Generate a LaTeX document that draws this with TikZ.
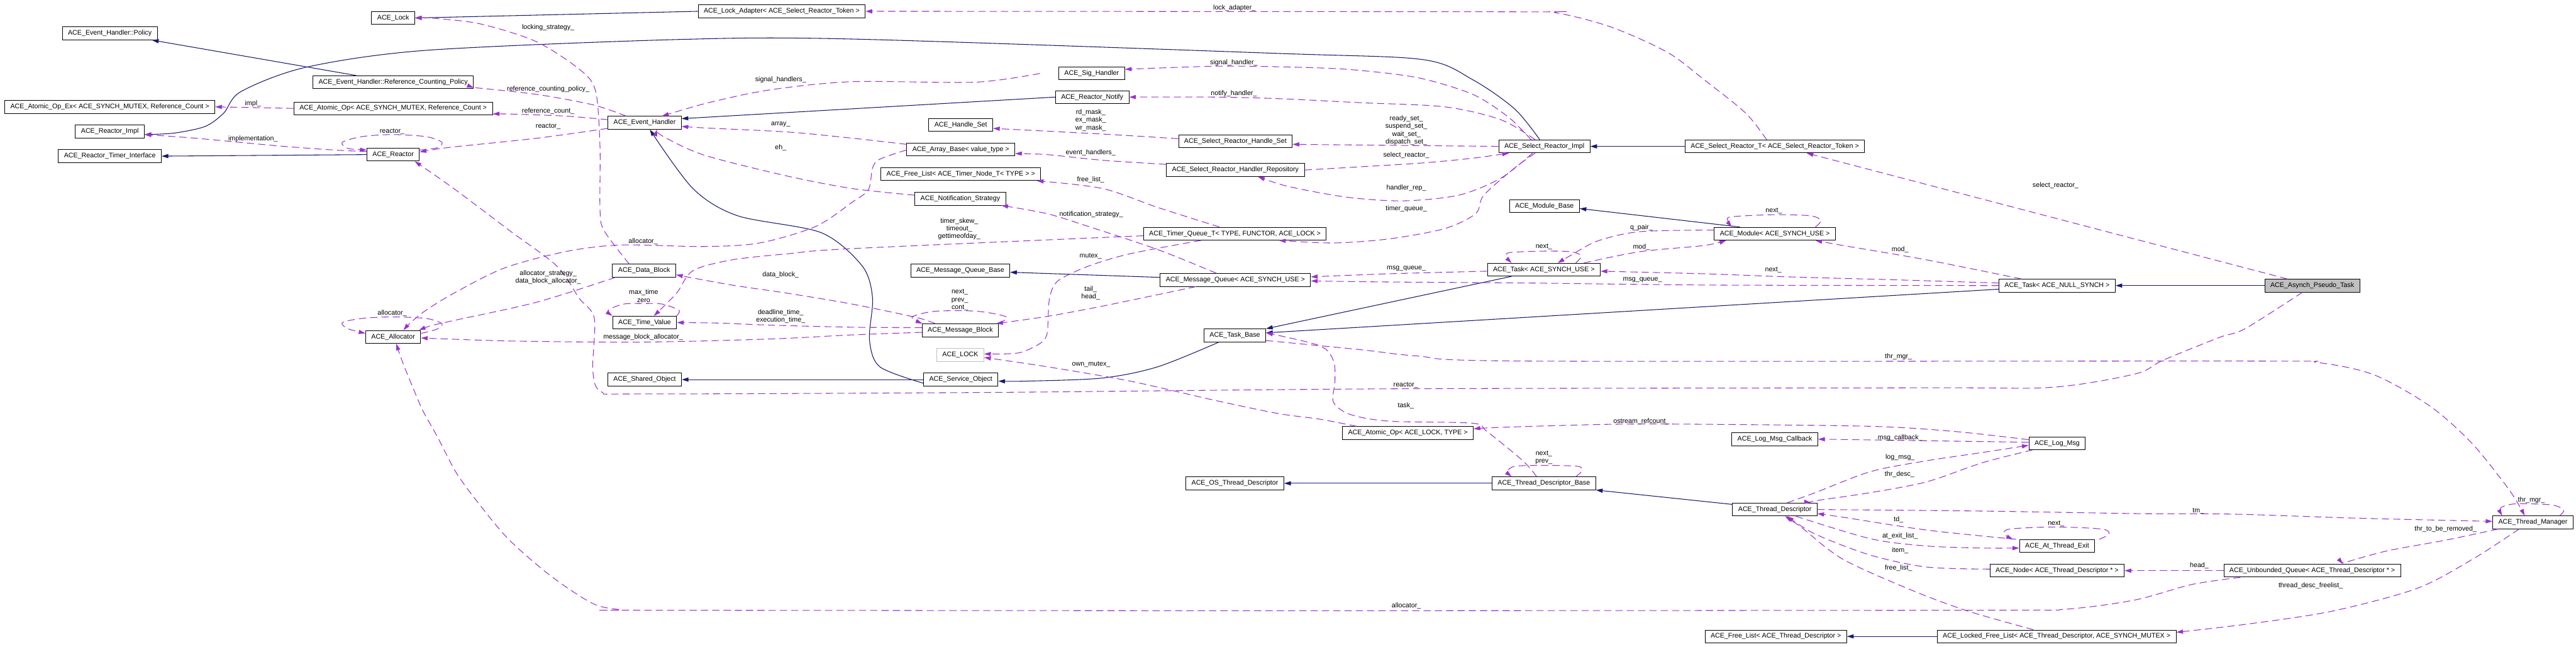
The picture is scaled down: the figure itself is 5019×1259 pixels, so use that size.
\documentclass[tikz,border=0pt]{standalone}
\usepackage{fontspec}
\setmainfont{Liberation Sans}
\usetikzlibrary{arrows.meta}
\definecolor{inhblue}{HTML}{191970}
\definecolor{usepurple}{HTML}{9A32CD}
\definecolor{rootgrey}{HTML}{BFBFBF}

\tikzset{
  cls/.style={draw, fill=white, line width=1.1pt, inner xsep=11pt, inner ysep=0pt,
    minimum height=25pt, text height=9.5pt, text depth=2.7pt},
  lbl/.style={inner sep=0pt, align=center},
  inheritance/.style={draw=inhblue, line width=1.3pt, -{Triangle[length=13pt,width=8pt]}},
  usage/.style={draw=usepurple, line width=1.3pt, dash pattern=on 14pt off 8pt,
    -{Triangle[length=13pt,width=8pt]}},
}

\begin{document}
\begin{tikzpicture}[x=1pt, y=-1pt, font=\fontsize{13.1}{15}\selectfont]
\fill[white] (0,0) rectangle (5019,1259);
\useasboundingbox (0,0) rectangle (5019,1259);

\node[cls] (lock) at (766,35) {ACE\_Lock};
\node[cls] (policy) at (214,65) {ACE\_Event\_Handler::Policy};
\node[cls] (rcpol) at (766,160) {ACE\_Event\_Handler::Reference\_Counting\_Policy};
\node[cls] (aopex) at (214,208) {ACE\_Atomic\_Op\_Ex< ACE\_SYNCH\_MUTEX, Reference\_Count >};
\node[cls] (aopmx) at (766,211) {ACE\_Atomic\_Op< ACE\_SYNCH\_MUTEX, Reference\_Count >};
\node[cls] (rimpl) at (214,256) {ACE\_Reactor\_Impl};
\node[cls] (rtimer) at (214,304) {ACE\_Reactor\_Timer\_Interface};
\node[cls] (reactor) at (766,301) {ACE\_Reactor};
\node[cls] (alloc) at (766,656) {ACE\_Allocator};
\node[cls] (lockad) at (1523,22) {ACE\_Lock\_Adapter< ACE\_Select\_Reactor\_Token >};
\node[cls] (evh) at (1256,239) {ACE\_Event\_Handler};
\node[cls] (datab) at (1255,527) {ACE\_Data\_Block};
\node[cls] (timev) at (1256,628) {ACE\_Time\_Value};
\node[cls] (shobj) at (1256,739) {ACE\_Shared\_Object};
\node[cls] (sigh) at (2127,143) {ACE\_Sig\_Handler};
\node[cls] (notify) at (2128,189) {ACE\_Reactor\_Notify};
\node[cls] (hset) at (1872,243) {ACE\_Handle\_Set};
\node[cls] (srhset) at (2407,275) {ACE\_Select\_Reactor\_Handle\_Set};
\node[cls] (abase) at (1872,291) {ACE\_Array\_Base< value\_type >};
\node[cls] (hrepo) at (2407,331) {ACE\_Select\_Reactor\_Handler\_Repository};
\node[cls] (flnode) at (1872,339) {ACE\_Free\_List< ACE\_Timer\_Node\_T< TYPE > >};
\node[cls] (notst) at (1871,387) {ACE\_Notification\_Strategy};
\node[cls] (tqueue) at (2406,455) {ACE\_Timer\_Queue\_T< TYPE, FUNCTOR, ACE\_LOCK >};
\node[cls] (mqbase) at (1871,527) {ACE\_Message\_Queue\_Base};
\node[cls] (mqueue) at (2407,545) {ACE\_Message\_Queue< ACE\_SYNCH\_USE >};
\node[cls] (mblock) at (1871,643) {ACE\_Message\_Block};
\node[cls, draw=rootgrey] (acelock) at (1871,691) {ACE\_LOCK};
\node[cls] (svcobj) at (1872,739) {ACE\_Service\_Object};
\node[cls] (tbase) at (2406,653) {ACE\_Task\_Base};
\node[cls] (osthr) at (2406,941) {ACE\_OS\_Thread\_Descriptor};
\node[cls] (srimpl) at (3009,285) {ACE\_Select\_Reactor\_Impl};
\node[cls] (modbase) at (3009,401) {ACE\_Module\_Base};
\node[cls] (tsynch) at (3008,525) {ACE\_Task< ACE\_SYNCH\_USE >};
\node[cls] (srt) at (3458,285) {ACE\_Select\_Reactor\_T< ACE\_Select\_Reactor\_Token >};
\node[cls] (aoplock) at (2743,843) {ACE\_Atomic\_Op< ACE\_LOCK, TYPE >};
\node[cls] (tdbase) at (3008,941) {ACE\_Thread\_Descriptor\_Base};
\node[cls] (module) at (3458,455) {ACE\_Module< ACE\_SYNCH\_USE >};
\node[cls] (tnull) at (4008,556) {ACE\_Task< ACE\_NULL\_SYNCH >};
\node[cls, fill=rootgrey] (apt) at (4505,556) {ACE\_Asynch\_Pseudo\_Task};
\node[cls] (lmcb) at (3458,855) {ACE\_Log\_Msg\_Callback};
\node[cls] (logmsg) at (4008,863) {ACE\_Log\_Msg};
\node[cls] (tdesc) at (3458,992) {ACE\_Thread\_Descriptor};
\node[cls] (atexit) at (4008,1063) {ACE\_At\_Thread\_Exit};
\node[cls] (tdnode) at (4008,1111) {ACE\_Node< ACE\_Thread\_Descriptor * >};
\node[cls] (flthr) at (3460,1239) {ACE\_Free\_List< ACE\_Thread\_Descriptor >};
\node[cls] (lfl) at (4007,1239) {ACE\_Locked\_Free\_List< ACE\_Thread\_Descriptor, ACE\_SYNCH\_MUTEX >};
\node[cls] (tmgr) at (4935,1017) {ACE\_Thread\_Manager};
\node[cls] (uqueue) at (4505,1111) {ACE\_Unbounded\_Queue< ACE\_Thread\_Descriptor * >};

\draw[inheritance] (lockad.west) -- (lock.east);
\draw[inheritance] ([xshift=-72pt]rcpol.north) -- ([xshift=-11pt]policy.south east);
\draw[inheritance] plot[smooth] coordinates {([xshift=-9pt]srimpl.north) (2951,212) (2869,155) (2772,116) (2490,104) (1660,76) (1318,77) (830,98) (596,131) (470,178) (436,220) (400,246) (340,259) ([yshift=-6pt]rimpl.east)};
\draw[inheritance] (reactor.west) -- (rtimer.east);
\draw[inheritance] (notify.west) -- ([yshift=8pt]evh.east);
\draw[inheritance] plot[smooth] coordinates {([yshift=-7pt]svcobj.west) (1714,714) (1694,661) (1700,580) (1680,518) (1600,453) (1437,420) (1350,367) ([xshift=10pt]evh.south)};
\draw[inheritance] plot[smooth] coordinates {([xshift=-31pt]tbase.south) (2256,714) (2148,736) (2000,742) ([yshift=-3pt]svcobj.east)};
\draw[inheritance] (svcobj.west) -- (shobj.east);
\draw[inheritance] ([yshift=5pt]mqueue.west) -- ([yshift=-3pt]mqbase.east);
\draw[inheritance] (srt.west) -- (srimpl.east);
\draw[inheritance] ([xshift=-68pt]module.north) -- ([yshift=-5pt]modbase.east);
\draw[inheritance] ([xshift=-63pt]tsynch.south) -- (tbase.north east);
\draw[inheritance] ([yshift=-7pt]tnull.west) -- ([yshift=5pt]tbase.east);
\draw[inheritance] (apt.west) -- (tnull.east);
\draw[inheritance] (tdbase.west) -- (osthr.east);
\draw[inheritance] ([yshift=10pt]tdesc.west) -- (tdbase.south east);
\draw[inheritance] (lfl.west) -- (flthr.east);

\draw[usage] plot[smooth] coordinates {([xshift=-16pt]srt.north) (3401,220) (3320,155) (3249,102) (3140,53) (3032,25) (2950,23) (lockad.east)};
\draw[usage] plot[smooth] coordinates {([xshift=-26pt]srimpl.north) (2940,229) (2870,184) (2761,151) (2625,135) (2490,130) (2365,129) ([yshift=8pt]sigh.east)};
\draw[usage] plot[smooth] coordinates {([xshift=-18pt]srimpl.north) (2924,233) (2815,208) (2652,200) (2490,192) (2365,189) (notify.east)};
\draw[usage] plot[smooth] coordinates {([xshift=-36pt]sigh.west) (1900,160) (1660,159) (1500,175) (1380,200) ([xshift=34pt]evh.north)};
\draw[usage] (srimpl.west) -- ([yshift=-6pt]srhset.east);
\draw[usage] plot[smooth] coordinates {([yshift=5pt]srhset.west) (2148,261) ([yshift=-7pt]hset.east)};
\draw[usage] plot[smooth] coordinates {([yshift=11pt]hrepo.west) (2148,312) (2040,301) ([yshift=-8pt]abase.east)};
\draw[usage] plot[smooth] coordinates {(hrepo.east) (2761,318) (2869,308) ([xshift=-69pt]srimpl.south)};
\draw[usage] plot[smooth] coordinates {([xshift=-23pt]srimpl.south) (2924,347) (2842,380) (2734,391) (2625,384) (2510,363) ([xshift=44pt]hrepo.south)};
\draw[usage] plot[smooth] coordinates {([xshift=-18pt]srimpl.south) (2951,327) (2891,380) (2875,416) (2815,445) (2707,465) (2598,473) ([xshift=86pt]tqueue.south)};
\draw[usage] plot[smooth] coordinates {([xshift=-30pt]tqueue.north) (2256,404) (2148,367) ([xshift=-8pt]flnode.south east)};
\draw[usage] plot[smooth] coordinates {([yshift=-4pt]tqueue.west) (1660,484) (1535,494) (1426,506) (1350,527) (1318,571) ([xshift=18pt]timev.north)};
\draw[usage] plot[smooth] coordinates {([xshift=-66pt]tqueue.south) (2202,494) (2121,518) (2061,547) (2045,580) (2042,625) (2040,650) (2029,667) (1985,687) ([yshift=2pt]acelock.east)};
\draw[usage] plot[smooth] coordinates {([xshift=-37pt]mqueue.north) (2256,486) (2121,441) (2040,416) ([xshift=-9pt]notst.south east)};
\draw[usage] plot[smooth] coordinates {([xshift=-77pt]mqueue.south) (2148,596) (2040,616) ([xshift=-5pt]mblock.north east)};
\draw[usage] plot[smooth] coordinates {([xshift=75pt]mblock.north) (1961,617) (1904,606) (1822,606) (1777,617) ([xshift=-74pt]mblock.north)};
\draw[usage] plot[smooth] coordinates {([xshift=-49pt]mblock.north) (1785,618) (1660,592) (1535,571) (1426,555) ([yshift=-8pt]datab.east)};
\draw[usage] plot[smooth] coordinates {([yshift=5pt]mblock.west) (1660,637) (1500,633) (1400,629) (timev.east)};
\draw[usage] plot[smooth] coordinates {([yshift=-4pt]mblock.west) (1660,652) (1500,660) (1253,666) (1000,664) ([yshift=-2pt]alloc.east)};
\draw[usage] plot[smooth] coordinates {([xshift=-56pt]datab.south) (1047,588) (884,624) (840,634) ([xshift=-4pt]alloc.north east)};
\draw[usage] plot[smooth] coordinates {([xshift=-29pt]datab.north) (1177,449) (1169,408) (1169,286) (1161,180) (1134,139) (1047,82) (938,47) (850,36) (lock.east)};
\draw[usage] plot[smooth] coordinates {([yshift=-1pt]abase.west) (1714,310) (1700,327) (1692,369) (1660,394) (1589,441) (1480,473) (1372,480) (1209,477) (1101,490) (982,522) (884,571) (830,604) (800,628) ([xshift=20pt]alloc.north)};
\draw[usage] plot[smooth] coordinates {([yshift=10pt]abase.west) (1660,269) (1535,257) (1372,249) ([yshift=-7pt]evh.east)};
\draw[usage] plot[smooth] coordinates {([yshift=7pt]notst.west) (1660,367) (1535,343) (1372,302) (1291,265) ([xshift=24pt]evh.south)};
\draw[usage] plot[smooth] coordinates {([yshift=-11pt]evh.west) (1047,269) (884,286) (840,292) ([yshift=5pt]reactor.east)};
\draw[usage] plot[smooth] coordinates {([yshift=9pt]reactor.east) (851,288) (861,277) (830,266) (764,262) (705,266) (667,277) (678,289) ([yshift=9pt]reactor.west)};
\draw[usage] plot[smooth] coordinates {([yshift=6pt]reactor.west) (650,292) (542,284) (380,269) ([yshift=-6pt]rimpl.east)};
\draw[usage] plot[smooth] coordinates {([xshift=-36pt]evh.north) (1155,204) (1047,184) (938,172) ([yshift=-11pt]rcpol.east)};
\draw[usage] plot[smooth] coordinates {([yshift=6pt]evh.west) (1101,226) (993,222) ([yshift=-11pt]aopmx.east)};
\draw[usage] (aopmx.west) -- (aopex.east);
\draw[usage] plot[smooth] coordinates {([yshift=-3pt]tsynch.west) (2707,533) ([yshift=6pt]mqueue.east)};
\draw[usage] plot[smooth] coordinates {(tnull.west) (3340,555) (2978,551) (2707,549) ([yshift=-2pt]mqueue.east)};
\draw[usage] plot[smooth] coordinates {([yshift=5pt]tnull.west) (3700,545) (3483,539) (3320,533) ([yshift=-3pt]tsynch.east)};
\draw[usage] plot[smooth] coordinates {([xshift=-70pt]tnull.north) (3754,506) (3591,478) ([xshift=79pt]module.south)};
\draw[usage] plot[smooth] coordinates {([xshift=78pt]tsynch.north) (3195,490) (3320,478) ([xshift=-95pt]module.south)};
\draw[usage] plot[smooth] coordinates {([yshift=7pt]module.west) (3195,451) (3113,469) (3059,498) ([xshift=27pt]tsynch.north)};
\draw[usage] plot[smooth] coordinates {([xshift=62pt]tsynch.north) (3081,498) (3059,490) (3005,489) (2940,492) (2937,502) ([xshift=-63pt]tsynch.north)};
\draw[usage] plot[smooth] coordinates {([xshift=79pt]module.north) (3548,429) (3526,420) (3455,418) (3374,422) (3366,429) ([xshift=-84pt]module.north)};
\draw[usage] ([xshift=-49pt]apt.north) -- ([xshift=62pt]srt.south);
\draw[usage] plot[smooth] coordinates {([xshift=-19pt]apt.south) (4374,640) (4324,657) (4215,701) (4160,728) (3998,754) (3754,755) (2707,757) (1931,764) (1253,767) (1172,763) (1155,722) (1158,620) (1128,580) (1085,518) (993,449) (884,367) ([xshift=42pt]reactor.south)};
\draw[usage] plot[smooth] coordinates {([xshift=-14pt]tdbase.north) (2967,897) (2897,840) (2869,824) (2707,820) (2631,807) (2598,783) (2601,742) (2598,702) (2571,673) ([yshift=5pt]tbase.east)};
\draw[usage] plot[smooth] coordinates {([yshift=-10pt]tbase.east) (2653,681) (2761,693) (2978,703) (4379,703) (4516,706) (4626,730) (4735,791) (4817,864) (4889,954) ([xshift=-16pt]tmgr.north)};
\draw[usage] plot[smooth] coordinates {([xshift=52pt]tmgr.north) (4995,993) (4971,983) (4900,981) (4872,989) ([xshift=-60pt]tmgr.north)};
\draw[usage] plot[smooth] coordinates {(tdesc.east) (3862,995) (4170,1000) (4352,1001) (4598,1009) ([yshift=2pt]tmgr.west)};
\draw[usage] plot[smooth] coordinates {([xshift=-80pt]atexit.north) (3754,1032) (3591,1007) ([yshift=-8pt]tdesc.east)};
\draw[usage] plot[smooth] coordinates {([xshift=41pt]tdesc.south) (3645,1049) (3754,1063) (3862,1067) ([yshift=-4pt]atexit.west)};
\draw[usage] plot[smooth] coordinates {([xshift=82pt]atexit.north) (4109,1040) (4095,1030) (4003,1026) (3916,1030) (3905,1040) ([xshift=-86pt]atexit.north)};
\draw[usage] plot[smooth] coordinates {([yshift=3pt]tdnode.west) (3754,1104) (3645,1081) (3537,1040) ([xshift=24pt]tdesc.south)};
\draw[usage] plot[smooth] coordinates {([xshift=-45pt]lfl.north) (3835,1190) (3727,1150) (3591,1089) (3510,1027) ([xshift=20pt]tdesc.south)};
\draw[usage] (uqueue.west) -- (tdnode.east);
\draw[usage] plot[smooth] coordinates {([xshift=-140pt]uqueue.south) (4270,1138) (4160,1168) (4025,1186) (3862,1188) (2490,1189) (1253,1188) (1209,1187) (1155,1175) (1074,1122) (993,1052) (938,987) (890,922) (852,850) (824,800) (808,763) (791,722) (780,693) ([xshift=6pt]alloc.south)};
\draw[usage] plot[smooth] coordinates {([xshift=-68pt]tmgr.south) (4763,1052) (4653,1072) (4576,1093) ([xshift=60pt]uqueue.north)};
\draw[usage] plot[smooth] coordinates {([xshift=-27pt]tmgr.south) (4817,1089) (4708,1146) (4543,1190) (4379,1215) ([yshift=8pt]lfl.east)};
\draw[usage] plot[smooth] coordinates {([xshift=24pt]tdesc.north) (3537,959) (3645,918) (3754,897) (3862,881) ([yshift=-4pt]logmsg.west)};
\draw[usage] plot[smooth] coordinates {([xshift=-48pt]logmsg.south) (3862,901) (3754,938) (3645,959) (3537,975) ([xshift=70pt]tdesc.north)};
\draw[usage] ([yshift=2pt]logmsg.west) -- (lmcb.east);
\draw[usage] plot[smooth] coordinates {([yshift=7pt]logmsg.west) (3808,840) (3645,830) (3320,826) (3140,826) (2924,832) ([yshift=8pt]aoplock.east)};
\draw[usage] plot[smooth] coordinates {([xshift=-100pt]aoplock.north) (2571,816) (2490,805) (2365,779) (2202,742) (2040,714) ([yshift=-5pt]acelock.east)};
\draw[usage] plot[smooth] coordinates {([xshift=62pt]tdbase.north) (3081,918) (3075,908) (3005,906) (2951,908) (2937,918) ([xshift=-63pt]tdbase.north)};
\draw[usage] plot[smooth] coordinates {([xshift=62pt]timev.north) (1323,604) (1290,592) (1253,591) (1215,592) (1185,604) ([xshift=-63pt]timev.north)};
\draw[usage] plot[smooth] coordinates {([yshift=7pt]alloc.east) (851,641) (861,630) (830,620) (764,617) (705,620) (667,628) (678,640) ([yshift=7pt]alloc.west)};

\node[lbl] (l-lockad) at (2405,15) {lock\_adapter\_};
\node[lbl] (l-sigh) at (2404,122) {signal\_handler\_};
\node[lbl] (l-sighs) at (1521,155) {signal\_handlers\_};
\node[lbl] (l-notify) at (2404,182) {notify\_handler\_};
\node[lbl] (l-sets) at (2740,254) {ready\_set\_\\suspend\_set\_\\wait\_set\_\\dispatch\_set\_};
\node[lbl] (l-masks) at (2125,234) {rd\_mask\_\\ex\_mask\_\\wr\_mask\_};
\node[lbl] (l-evhs) at (2125,297) {event\_handlers\_};
\node[lbl] (l-selr) at (2740,302) {select\_reactor\_};
\node[lbl] (l-hrep) at (2740,366) {handler\_rep\_};
\node[lbl] (l-tq) at (2740,407) {timer\_queue\_};
\node[lbl] (l-fl) at (2125,350) {free\_list\_};
\node[lbl] (l-tv) at (1869,446) {timer\_skew\_\\timeout\_\\gettimeofday\_};
\node[lbl] (l-mutex) at (2125,499) {mutex\_};
\node[lbl] (l-ns) at (2126,418) {notification\_strategy\_};
\node[lbl] (l-th) at (2125,571) {tail\_\\head\_};
\node[lbl] (l-mbl) at (1870,584) {next\_\\prev\_\\cont\_};
\node[lbl] (l-db) at (1521,535) {data\_block\_};
\node[lbl] (l-dt) at (1521,616) {deadline\_time\_\\execution\_time\_};
\node[lbl] (l-mba) at (1253,657) {message\_block\_allocator\_};
\node[lbl] (l-dba) at (1068,540) {allocator\_strategy\_\\data\_block\_allocator\_};
\node[lbl] (l-ls) at (1068,54) {locking\_strategy\_};
\node[lbl] (l-abal) at (1253,470) {allocator\_};
\node[lbl] (l-array) at (1521,242) {array\_};
\node[lbl] (l-eh) at (1521,288) {eh\_};
\node[lbl] (l-evr) at (1068,246) {reactor\_};
\node[lbl] (l-rl) at (764,256) {reactor\_};
\node[lbl] (l-impl) at (493,270) {implementation\_};
\node[lbl] (l-rcp) at (1068,174) {reference\_counting\_policy\_};
\node[lbl] (l-rc) at (1068,217) {reference\_count\_};
\node[lbl] (l-impl2) at (493,202) {impl\_};
\node[lbl] (l-mq1) at (2740,523) {msg\_queue\_};
\node[lbl] (l-mq2) at (3200,545) {msg\_queue\_};
\node[lbl] (l-next1) at (3455,526) {next\_};
\node[lbl] (l-mod1) at (3702,486) {mod\_};
\node[lbl] (l-mod2) at (3198,481) {mod\_};
\node[lbl] (l-qp) at (3198,443) {q\_pair\_};
\node[lbl] (l-tnext) at (3008,481) {next\_};
\node[lbl] (l-mnext) at (3456,410) {next\_};
\node[lbl] (l-sr) at (4005,361) {select\_reactor\_};
\node[lbl] (l-ar) at (2739,750) {reactor\_};
\node[lbl] (l-task) at (2739,790) {task\_};
\node[lbl] (l-thrmgr) at (3699,695) {thr\_mgr\_};
\node[lbl] (l-tmloop) at (4932,974) {thr\_mgr\_};
\node[lbl] (l-tm) at (4283,995) {tm\_};
\node[lbl] (l-td) at (3699,1012) {td\_};
\node[lbl] (l-ael) at (3702,1044) {at\_exit\_list\_};
\node[lbl] (l-atnext) at (4006,1019) {next\_};
\node[lbl] (l-item) at (3702,1072) {item\_};
\node[lbl] (l-fl2) at (3699,1106) {free\_list\_};
\node[lbl] (l-head) at (4285,1101) {head\_};
\node[lbl] (l-al) at (2740,1180) {allocator\_};
\node[lbl] (l-ttbr) at (4765,1030) {thr\_to\_be\_removed\_};
\node[lbl] (l-tdf) at (4502,1140) {thread\_desc\_freelist\_};
\node[lbl] (l-lm) at (3702,891) {log\_msg\_};
\node[lbl] (l-thd) at (3701,924) {thr\_desc\_};
\node[lbl] (l-mc) at (3702,852) {msg\_callback\_};
\node[lbl] (l-or) at (3198,820) {ostream\_refcount\_};
\node[lbl] (l-om) at (2126,710) {own\_mutex\_};
\node[lbl] (l-tdb) at (3008,891) {next\_\\prev\_};
\node[lbl] (l-tvl) at (1254,576) {max\_time\\zero};
\node[lbl] (l-alloop) at (764,610) {allocator\_};
\end{tikzpicture}
\end{document}
